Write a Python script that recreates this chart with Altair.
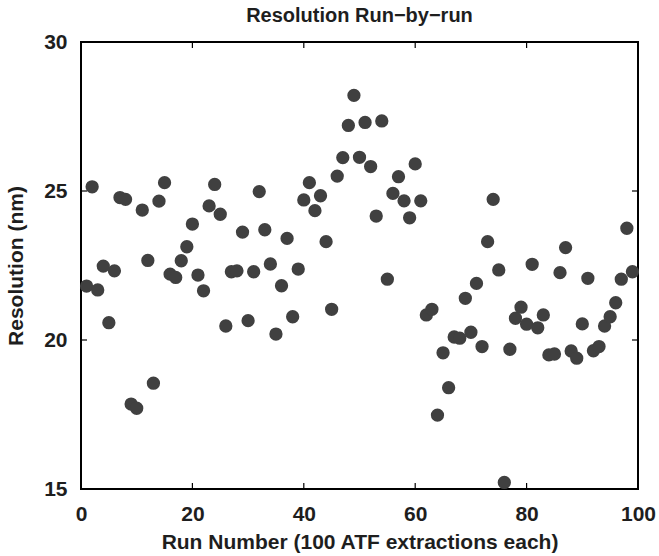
import altair as alt
import pandas as pd

# Resolution measured for each run (runs 1..99)
runs = list(range(1, 100))
resolution = [
    21.81, 25.14, 21.68, 22.48, 20.58, 22.32, 24.78, 24.72, 17.85, 17.71,
    24.36, 22.67, 18.55, 24.66, 25.28, 22.21, 22.10, 22.66, 23.13, 23.89,
    22.18, 21.65, 24.50, 25.22, 24.22, 20.47, 22.29, 22.32, 23.62, 20.65,
    22.29, 24.98, 23.70, 22.55, 20.20, 21.82, 23.41, 20.78, 22.38, 24.70,
    25.28, 24.34, 24.84, 23.30, 21.03, 25.50, 26.12, 27.20, 28.21, 26.13,
    27.30, 25.82, 24.16, 27.35, 22.04, 24.92, 25.48, 24.67, 24.10, 25.91,
    24.67, 20.84, 21.03, 17.48, 19.57, 18.40, 20.10, 20.06, 21.40, 20.26,
    21.90, 19.78, 23.30, 24.72, 22.35, 15.22, 19.69, 20.73, 21.10, 20.53,
    22.54, 20.41, 20.84, 19.50, 19.53, 22.26, 23.10, 19.63, 19.39, 20.54,
    22.07, 19.64, 19.78, 20.47, 20.78, 21.25, 22.04, 23.75, 22.29,
]

x_ticks = [0, 20, 40, 60, 80, 100]
y_ticks = [15, 20, 25, 30]

W, H = 557, 447
TICK = 6
FONT = "Liberation Sans"
INK = "#1e1e1e"

df = pd.DataFrame({"run": runs, "res": resolution})
xt = pd.DataFrame({"v": x_ticks})
yt = pd.DataFrame({"v": y_ticks})

xscale = alt.Scale(domain=[0, 100], nice=False)
yscale = alt.Scale(domain=[15, 30], nice=False)

text_style = dict(
    labelFont=FONT, labelFontSize=21, labelFontWeight="bold", labelColor=INK,
    labelFlush=False, labelOverlap=False,
    titleFont=FONT, titleFontSize=21, titleFontWeight="bold", titleColor=INK,
    domain=False, ticks=False, grid=False,
)
x_axis = alt.Axis(
    values=x_ticks, title="Run Number (100 ATF extractions each)",
    labelPadding=14, titlePadding=7, **text_style,
)
y_axis = alt.Axis(
    values=y_ticks, title="Resolution (nm)",
    labelPadding=14, titlePadding=17, **text_style,
)

points = alt.Chart(df).mark_circle(size=177, color="#404040", opacity=1).encode(
    x=alt.X("run:Q", scale=xscale, axis=x_axis),
    y=alt.Y("res:Q", scale=yscale, axis=y_axis),
)

# inward-pointing ticks on all four sides of the box
tick_style = dict(color="black", strokeWidth=1.2)
bottom_ticks = alt.Chart(xt).mark_rule(**tick_style).encode(
    x=alt.X("v:Q", scale=xscale, axis=x_axis), y=alt.value(H), y2=alt.value(H - TICK)
)
top_ticks = alt.Chart(xt).mark_rule(**tick_style).encode(
    x=alt.X("v:Q", scale=xscale, axis=x_axis), y=alt.value(0), y2=alt.value(TICK)
)
left_ticks = alt.Chart(yt).mark_rule(**tick_style).encode(
    y=alt.Y("v:Q", scale=yscale, axis=y_axis), x=alt.value(0), x2=alt.value(TICK)
)
right_ticks = alt.Chart(yt).mark_rule(**tick_style).encode(
    y=alt.Y("v:Q", scale=yscale, axis=y_axis), x=alt.value(W), x2=alt.value(W - TICK)
)

chart = (
    alt.layer(points, bottom_ticks, top_ticks, left_ticks, right_ticks)
    .properties(
        width=W, height=H,
        title=alt.TitleParams(
            "Resolution Run\u2212by\u2212run", font=FONT, fontSize=20,
            fontWeight="bold", color=INK, anchor="middle",
            baseline="alphabetic", offset=15, dy=26,
        ),
        autosize=alt.AutoSizeParams(type="none"),
        padding={"left": 81, "top": 42, "right": 21, "bottom": 67},
        background="white",
    )
    .configure_view(stroke="black", strokeWidth=2)
)

chart.save("out.html", embed_options={"renderer": "svg", "actions": False})
